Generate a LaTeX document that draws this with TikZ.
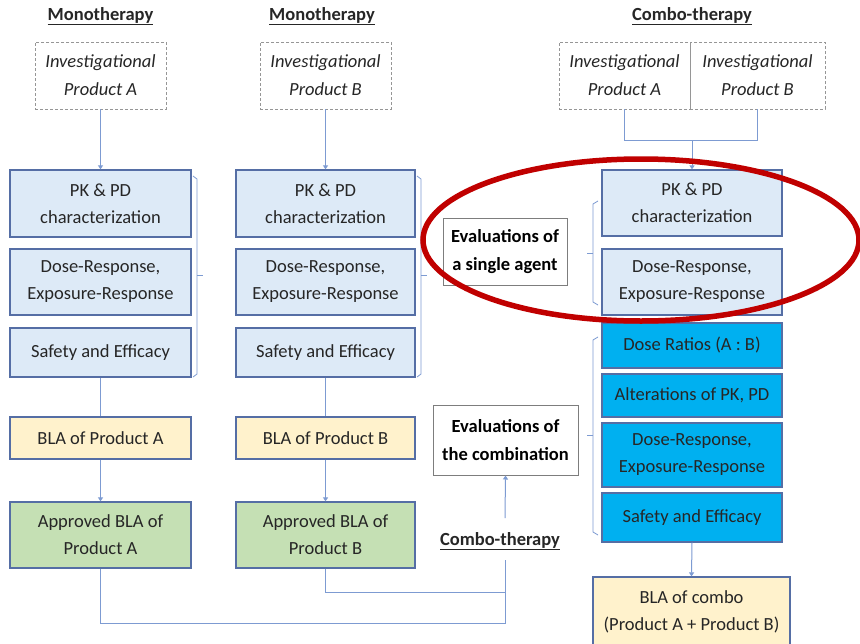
\documentclass[tikz,border=0pt]{standalone}
\usepackage{fontspec}
\setmainfont{Carlito}
\usetikzlibrary{arrows.meta}
\definecolor{lblue}{RGB}{221,234,247}
\definecolor{bblue}{RGB}{0,176,240}
\definecolor{byellow}{RGB}{255,242,204}
\definecolor{bgreen}{RGB}{197,224,180}
\definecolor{bedge}{RGB}{85,110,165}
\definecolor{conn}{RGB}{125,155,210}
\definecolor{dgray}{RGB}{150,150,150}
\definecolor{egray}{RGB}{125,125,125}
\definecolor{ovalred}{RGB}{192,0,0}
\tikzset{
  box/.style={draw=bedge, line width=1.2pt, align=center, inner sep=0pt,
    font=\fontsize{18.5}{27}\selectfont, text=black!85},
  lbox/.style={box, fill=lblue},
  bbox/.style={box, fill=bblue},
  ybox/.style={box, fill=byellow},
  gbox/.style={box, fill=bgreen},
  invbox/.style={draw=dgray, densely dashed, line width=0.8pt, align=center, inner sep=0pt,
    font=\fontsize{18.5}{28}\selectfont\itshape, text=black!85,
    minimum width=131pt, minimum height=67pt},
  evalbox/.style={draw=egray, line width=1pt, fill=white, align=center, inner sep=0pt,
    font=\fontsize{18.5}{28}\selectfont\bfseries},
  header/.style={font=\fontsize{18.5}{20}\selectfont\bfseries, text=black!85, inner sep=0pt},
  cline/.style={draw=conn, line width=1pt},
  carrow/.style={cline, -{Triangle[width=5pt,length=4pt]}},
  brk/.style={draw=conn, line width=0.8pt}
}
\begin{document}
\begin{tikzpicture}[x=1pt,y=-1pt]
\fill[white] (0,0) rectangle (860,643);
\useasboundingbox (0,0) rectangle (860,643);

% headers
\node[header] (hA) at (100.5,16) {\underline{Monotherapy}};
\node[header] (hB) at (322,16) {\underline{Monotherapy}};
\node[header] (hC) at (692,16) {\underline{Combo-therapy}};

% investigational
\node[invbox] (invA) at (100.5,75.5) {Investigational\\Product A};
\node[invbox] (invB) at (325.5,75.5) {Investigational\\Product B};
\node[invbox] (invCA) at (624.5,75.5) {Investigational\\Product A};
\node[invbox, minimum width=135pt] (invCB) at (757.5,75.5) {Investigational\\Product B};

% column A
\node[lbox, minimum width=181pt, minimum height=67pt] (pkA) at (100.5,203.5) {PK \& PD\\characterization};
\node[lbox, minimum width=181pt, minimum height=66pt] (drA) at (100.5,282) {Dose-Response,\\Exposure-Response};
\node[lbox, minimum width=181pt, minimum height=49pt] (seA) at (100.5,352.5) {Safety and Efficacy};
\node[ybox, minimum width=181pt, minimum height=42pt] (blaA) at (100.5,438) {BLA of Product A};
\node[gbox, minimum width=181pt, minimum height=66pt] (apA) at (100.5,535) {Approved BLA of\\Product A};

% column B
\node[lbox, minimum width=179pt, minimum height=67pt] (pkB) at (325.5,203.5) {PK \& PD\\characterization};
\node[lbox, minimum width=179pt, minimum height=66pt] (drB) at (325.5,282) {Dose-Response,\\Exposure-Response};
\node[lbox, minimum width=179pt, minimum height=49pt] (seB) at (325.5,352.5) {Safety and Efficacy};
\node[ybox, minimum width=179pt, minimum height=42pt] (blaB) at (325.5,438) {BLA of Product B};
\node[gbox, minimum width=179pt, minimum height=66pt] (apB) at (325.5,535) {Approved BLA of\\Product B};

% combo column
\node[lbox, minimum width=180pt, minimum height=66pt] (pkC) at (692,203) {PK \& PD\\characterization};
\node[lbox, minimum width=180pt, minimum height=66pt] (drC) at (692,282) {Dose-Response,\\Exposure-Response};
\node[bbox, minimum width=180pt, minimum height=45pt] (ratio) at (692,345.5) {Dose Ratios (A : B)};
\node[bbox, minimum width=180pt, minimum height=43pt] (alt) at (692,395.5) {Alterations of PK, PD};
\node[bbox, minimum width=180pt, minimum height=64pt] (drC2) at (692,455) {Dose-Response,\\Exposure-Response};
\node[bbox, minimum width=180pt, minimum height=49pt] (seC) at (692,517.5) {Safety and Efficacy};
\node[ybox, minimum width=197pt, minimum height=70pt] (blaC) at (691.5,612) {BLA of combo\\(Product A + Product B)};

% evaluation boxes
\node[evalbox, minimum width=124pt, minimum height=67pt] (evalS) at (505,251.5) {Evaluations of\\a single agent};
\node[evalbox, minimum width=145pt, minimum height=70pt] (evalC) at (505.5,440) {Evaluations of\\the combination};
\node[header] (comboL) at (500,541) {\underline{Combo-therapy}};

% connectors column A
\draw[carrow] (invA.south) -- (pkA.north);
\draw[cline] (seA.south) -- (blaA.north);
\draw[carrow] (blaA.south) -- (apA.north);
% column B
\draw[carrow] (invB.south) -- (pkB.north);
\draw[cline] (seB.south) -- (blaB.north);
\draw[carrow] (blaB.south) -- (apB.north);
% combo inputs
\coordinate (jA) at (624.5,140);
\coordinate (jB) at (757.5,140);
\coordinate (jM) at (692,140);
\draw[cline] (invCA.south) -- (jA) -- (jB) -- (invCB.south);
\draw[carrow] (jM) -- (pkC.north);
\draw[carrow] (seC.south) -- (blaC.north);
% approved to combo-therapy
\coordinate (lowA) at (100.5,623);
\coordinate (lowM) at (505,623);
\coordinate (lowB) at (325.5,592);
\coordinate (midB) at (505,592);
\coordinate (lblBot) at (505,560);
\coordinate (lblTop) at (505,518);
\draw[cline] (apA.south) -- (lowA) -- (lowM) -- (lblBot);
\draw[cline] (apB.south) -- (lowB) -- (midB);
\draw[carrow] (lblTop) -- (evalC.south);

% brackets
\draw[brk] (193,176) -- (197,179) -- (197,374) -- (193,377);
\draw[brk] (197,275) -- (203,275);
\draw[brk] (417,176) -- (421,179) -- (421,374) -- (417,377);
\draw[brk] (421,275) -- (427,275);
\draw[brk] (598,201) -- (593,204) -- (593,302) -- (598,305);
\draw[brk] (593,253) -- (587,253);
\draw[brk] (598,337) -- (593,340) -- (593,532) -- (598,535);
\draw[brk] (593,435) -- (587,435);

% red oval
\draw[ovalred, line width=5.5pt] (641,240) ellipse [x radius=218pt, y radius=81pt];
\end{tikzpicture}
\end{document}
